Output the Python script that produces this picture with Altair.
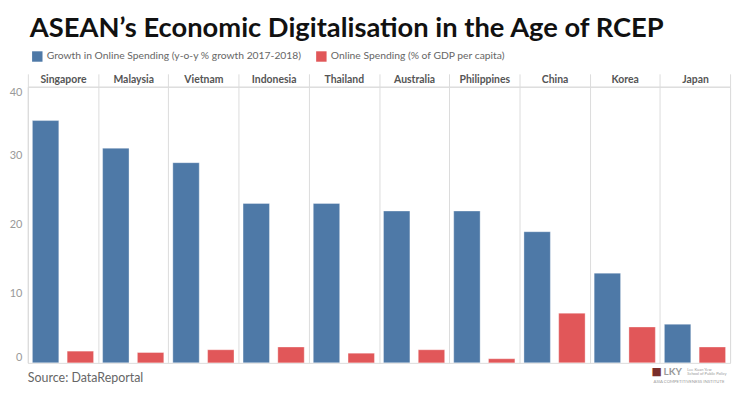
import altair as alt
import pandas as pd

countries = ["Singapore", "Malaysia", "Vietnam", "Indonesia", "Thailand",
             "Australia", "Philippines", "China", "Korea", "Japan"]
growth = [35.1, 31.1, 29.0, 23.1, 23.1, 22.0, 22.0, 19.0, 13.0, 5.6]
share = [1.7, 1.5, 1.9, 2.3, 1.4, 1.9, 0.6, 7.2, 5.2, 2.3]
measures = ["Growth in Online Spending (y-o-y % growth 2017-2018)",
            "Online Spending (% of GDP per capita)"]
colors = ["#4e79a7", "#e15759"]
y_ticks = [0, 10, 20, 30, 40]
source_text = "Source: DataReportal"

rows = []
for c, g, s in zip(countries, growth, share):
    rows.append({"country": c, "measure": measures[0], "value": g})
    rows.append({"country": c, "measure": measures[1], "value": s})
df = pd.DataFrame(rows)

W, H = 707, 278
FONT = "Lato"

bars = alt.Chart(df).mark_bar(stroke="#ffffff", strokeOpacity=0.35, strokeWidth=1).encode(
    x=alt.X("country:N", sort=countries, title=None,
            scale=alt.Scale(paddingInner=0, paddingOuter=0),
            axis=alt.Axis(orient="top", tickBand="extent", grid=True,
                          gridColor="#dcdcdc", gridWidth=1,
                          ticks=True, tickSize=13, tickColor="#dcdcdc",
                          domain=True, domainColor="#dcdcdc",
                          labelAngle=0, labelFont=FONT, labelFontSize=10.5,
                          labelFontWeight="bold", labelColor="#555555",
                          labelPadding=-11)),
    xOffset=alt.XOffset("measure:N", sort=measures,
                        scale=alt.Scale(paddingInner=0.24, paddingOuter=0.13)),
    y=alt.Y("value:Q", title=None,
            scale=alt.Scale(domain=[0, 40], nice=False),
            axis=alt.Axis(values=y_ticks, grid=False, ticks=False,
                          domain=True, domainColor="#dcdcdc",
                          labelFont=FONT, labelFontSize=11, labelColor="#999999",
                          labelFlush=True, labelPadding=6)),
    color=alt.Color("measure:N", sort=measures,
                    scale=alt.Scale(domain=measures, range=colors),
                    legend=alt.Legend(title=None, orient="none", legendX=4, legendY=-36,
                                      direction="horizontal", columns=2,
                                      symbolType="square", symbolSize=110,
                                      symbolStrokeWidth=0, columnPadding=14,
                                      labelFont=FONT, labelFontSize=10.4,
                                      labelColor="#666666", labelLimit=400)),
)

def deco(text, x, y, size, color="#9a9a9a", weight="normal", font=FONT):
    return alt.Chart(pd.DataFrame({"t": [text]})).mark_text(
        align="left", baseline="middle", font=font, fontSize=size,
        fontWeight=weight, color=color
    ).encode(text="t:N", x=alt.value(x), y=alt.value(y))

src = deco(source_text, 0, H + 15, 12.5, color="#666666")
logo_sq = deco("■", 628, H + 9, 11, color="#7a2e2a", font="DejaVu Sans")
logo_lky = deco("LKY", 640, H + 9, 10, weight="bold")
logo_s1 = deco("Lee Kuan Yew", 664, H + 7, 4)
logo_s2 = deco("School of Public Policy", 664, H + 11, 4)
logo_aci = deco("ASIA COMPETITIVENESS INSTITUTE", 630, H + 19, 4.3)

chart = alt.layer(bars, src, logo_sq, logo_lky, logo_s1, logo_s2, logo_aci).properties(
    width=W, height=H,
    title=alt.TitleParams("ASEAN’s Economic Digitalisation in the Age of RCEP",
                          anchor="start", frame="group", font=FONT, fontSize=27.5,
                          fontWeight="bold", color="#111111", offset=9, dx=2),
    padding={"left": 20, "top": 78, "right": 12, "bottom": 22},
    autosize=alt.AutoSizeParams(type="none"),
).configure_view(stroke="#dcdcdc", strokeWidth=1)

chart.save("out.html", embed_options={"renderer": "svg", "actions": False})
